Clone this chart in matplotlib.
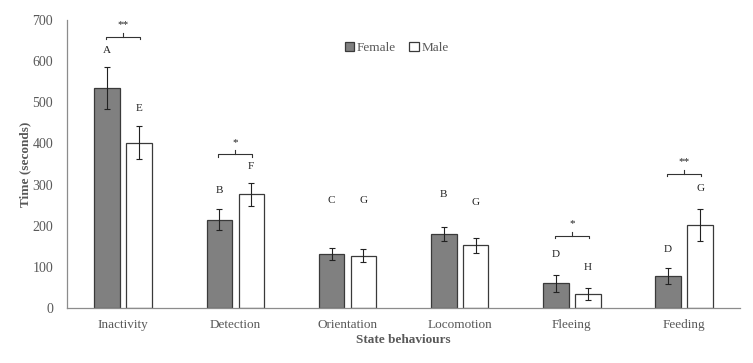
import matplotlib.pyplot as plt
import numpy as np

# datos
categorias = ["Inactivity", "Detection", "Orientation", "Locomotion", "Fleeing", "Feeding"]
female = [534, 215, 131, 179, 60, 78]
female_err = [51, 26, 15, 17, 21, 19]
male = [402, 276, 127, 152, 34, 202]
male_err = [40, 27, 16, 19, 14, 38]

# letras de significancia
female_letras = ["A", "B", "C", "B", "D", "D"]
female_letras_y = [625, 285, 262, 277, 130, 143]
male_letras = ["E", "F", "G", "G", "H", "G"]
male_letras_y = [486, 345, 262, 256, 98, 291]

# corchetes entre sexos
corchete_idx = [0, 1, 4, 5]
corchete_y = [659, 374, 175, 326]
corchete_txt = ["**", "*", "*", "**"]

plt.rcParams['font.family'] = ['Liberation Serif', 'DejaVu Serif']
gris = '#595959'

fig = plt.figure(figsize=(7.53, 3.63), dpi=100)
ax = fig.add_axes([0.089, 0.1515, 0.894, 0.7935])

x = np.arange(len(categorias))
ancho = 0.227
off = 0.142

ax.bar(x - off, female, ancho, color='#808080', edgecolor='#3a3a3a', linewidth=0.9,
       label='Female', zorder=2)
ax.bar(x + off, male, ancho, color='white', edgecolor='#3a3a3a', linewidth=0.9,
       label='Male', zorder=2)
ax.errorbar(x - off, female, yerr=female_err, fmt='none', ecolor='#222222',
            elinewidth=0.8, capsize=2.5, capthick=0.8, zorder=3)
ax.errorbar(x + off, male, yerr=male_err, fmt='none', ecolor='#222222',
            elinewidth=0.8, capsize=2.5, capthick=0.8, zorder=3)

for i in range(len(categorias)):
    ax.text(x[i] - off, female_letras_y[i], female_letras[i], ha='center', va='center',
            fontsize=8, color='#222222')
    ax.text(x[i] + off, male_letras_y[i], male_letras[i], ha='center', va='center',
            fontsize=8, color='#222222')

for i, yb, t in zip(corchete_idx, corchete_y, corchete_txt):
    x0 = x[i] - off - 0.01
    x1 = x[i] + off + 0.01
    ax.plot([x0, x0, x1, x1], [yb - 6, yb, yb, yb - 6], color='#333333', lw=0.8)
    ax.plot([x[i], x[i]], [yb, yb + 10], color='#333333', lw=0.8)
    ax.text(x[i], yb + 18, t, ha='center', va='bottom', fontsize=8, color='#222222')

ax.set_xlim(-0.5, 5.5)
ax.set_ylim(0, 700)
ax.set_yticks(range(0, 701, 100))
ax.set_xticks(x)
ax.set_xticklabels(categorias)
ax.tick_params(axis='y', length=0, labelsize=10, labelcolor=gris, pad=10)
ax.tick_params(axis='x', length=0, labelsize=9.5, labelcolor=gris, pad=8)
for s in ['top', 'right']:
    ax.spines[s].set_visible(False)
for s in ['left', 'bottom']:
    ax.spines[s].set_color('#8c8c8c')
    ax.spines[s].set_linewidth(0.9)

ax.set_ylabel("Time (seconds)", fontsize=9.5, fontweight='bold', color=gris, labelpad=1)
ax.set_xlabel("State behaviours", fontsize=9.5, fontweight='bold', color=gris, labelpad=2)

leg = ax.legend(loc='upper center', bbox_to_anchor=(0.49, 0.965), ncol=2, frameon=False,
                fontsize=9.5, handlelength=0.7, handleheight=0.7, handletextpad=0.2,
                columnspacing=1.0)
for t in leg.get_texts():
    t.set_color(gris)

plt.savefig("out.png", dpi=100)
